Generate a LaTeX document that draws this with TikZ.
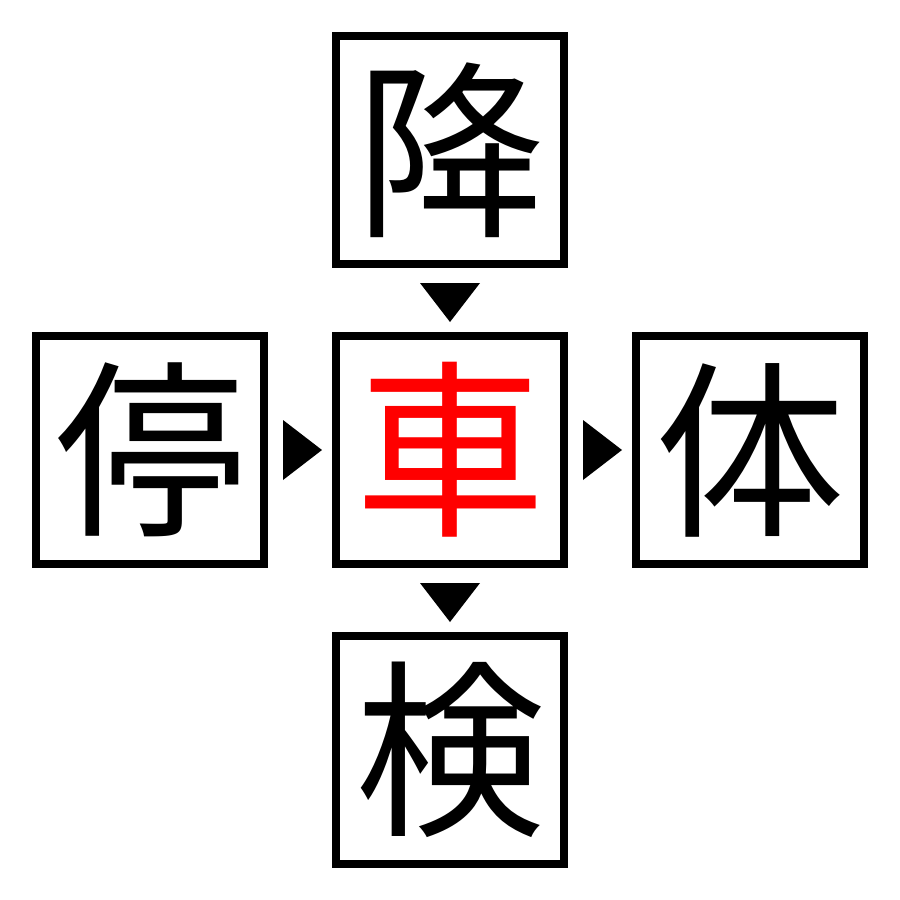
\documentclass[tikz,border=0pt]{standalone}
\usepackage{fontspec}
\newfontfamily\cjk{Noto Sans CJK JP}
\begin{document}
\begin{tikzpicture}[x=0.01cm,y=-0.01cm,
  kbox/.style={draw=black,line width=0.08cm,minimum size=2.28cm,inner sep=0pt,font=\cjk\fontsize{54}{54}\selectfont},
  tri/.style={fill=black}]
\useasboundingbox (0,0) rectangle (900,900);
\node[kbox] (t) at (450,150) {降};
\node[kbox] (l) at (150,450) {停};
\node[kbox,text=red] (c) at (450,450) {車};
\node[kbox] (r) at (750,450) {体};
\node[kbox] (b) at (450,750) {検};
\fill[tri] (420,283) -- (480,283) -- (450,322) -- cycle;
\fill[tri] (420,583) -- (480,583) -- (450,622) -- cycle;
\fill[tri] (283,420) -- (283,480) -- (322,450) -- cycle;
\fill[tri] (583,420) -- (583,480) -- (622,450) -- cycle;
\end{tikzpicture}
\end{document}
